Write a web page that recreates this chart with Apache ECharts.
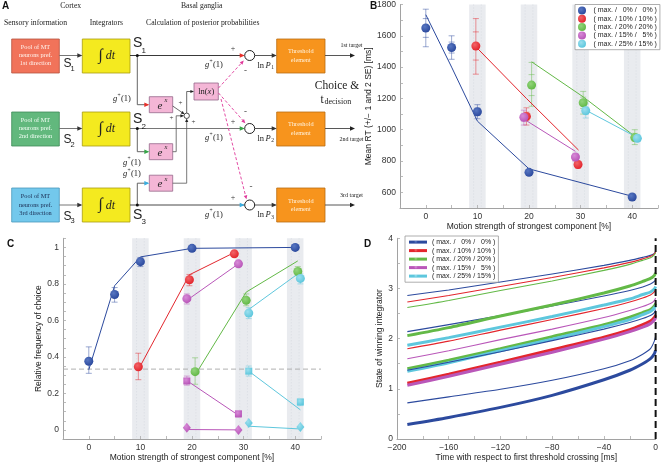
<!DOCTYPE html>
<html><head><meta charset="utf-8">
<script src="https://cdn.jsdelivr.net/npm/echarts@6.0.0/dist/echarts.min.js"></script>
<style>html,body{margin:0;padding:0;background:#fff;overflow:hidden}#chart{width:661px;height:463px}</style>
</head><body><div id="chart"></div>
<script>
// ================= DATA =================
const legendNames = ['( max. /   0% /   0% )','( max. / 10% / 10% )','( max. / 20% / 20% )','( max. / 15% /   5% )','( max. / 25% / 15% )'];
const seriesColors = ['#2c4a9e','#e3262d','#63b947','#b957b9','#5ec7dd'];
const highlightColors = ['#5877c2','#f26468','#92d47b','#d78ad7','#9bdfee'];
const bandCenters = [10,20,30,40];

// Panel B : mean RT [ms]
const bBlueX=[0,5,10,20,40],   bBlueRT=[1650,1525,1115,728,570],  bBlueFit=[1735,1400,1055,750,575];
const bRedX=[9.7,19.5,29.5],   bRedRT=[1535,1085,778];
const bRedFitX=[9.7,19.5,29.6], bRedFit=[1530,1200,870];
const bGreenX=[20.5,30.5,40.5], bGreenRT=[1285,1172,950],       bGreenFit=[1434,1210,958];
const bMagX=[19,29],           bMagRT=[1080,826],                bMagFit=[1068,862];
const bCyanX=[31,41],          bCyanRT=[1122,945],               bCyanFit=[1125,950];
// [x, -2SE, +2SE, -1SE, +1SE]
const bBlueErr=[[0,1530,1770,1590,1710],[5,1450,1600,1490,1560],[10,1070,1160,1092,1138],[20,712,745,720,737],[40,560,582,565,576]];
const bRedErr=[[9.7,1355,1710,1445,1625],[19.5,1030,1140,1058,1112],[29.5,755,800,767,790]];
const bGreenErr=[[20.5,1150,1430,1218,1352],[30.5,1100,1245,1136,1208],[40.5,905,1000,928,977]];
const bMagErr=[[19,1030,1125,1055,1100],[29,800,845,812,834]];
const bCyanErr=[[31,1075,1165,1098,1145],[41,925,968,935,957]];

// Panel C : relative frequency of choice
const cBlueX=[0,5,10,20,40],  cBlue=[0.376,0.742,0.922,0.995,1.0], cBlueFit=[0.33,0.79,0.948,0.995,1.0];
const cRedX=[9.6,19.5,28.2],  cRed=[0.346,0.823,0.965],           cRedFit=[0.33,0.85,0.972];
const cGreenX=[20.6,30.5,40.5], cGreen=[0.319,0.71,0.868],        cGreenFit=[0.30,0.755,0.926];
const cMagX=[19,29],  cMagCirc=[0.719,0.91], cMagCircFit=[0.71,0.91], cMagSq=[0.268,0.088], cMagSqFit=[0.27,0.08], cMagDia=[0.012,0.0], cMagDiaFit=[0.002,0.0];
const cCyanX=[31,41], cCyanCirc=[0.64,0.83], cCyanCircFit=[0.66,0.865], cCyanSq=[0.322,0.153], cCyanSqFit=[0.322,0.11], cCyanDia=[0.038,0.016], cCyanDiaFit=[0.02,0.005];
const chanceLevel = 0.333;
// [x, low, high]
const cBlueErr=[[0,0.31,0.455],[5,0.70,0.78],[10,0.895,0.945]];
const cRedErr=[[9.6,0.275,0.42],[19.5,0.79,0.852],[28.2,0.95,0.98]];
const cGreenErr=[[20.6,0.25,0.395],[30.5,0.68,0.745],[40.5,0.845,0.895]];
const cMagErr=[[19,0.69,0.745],[19,0.245,0.295],[29,0.07,0.1]];
const cCyanErr=[[31,0.61,0.67],[31,0.295,0.35],[41,0.80,0.855],[41,0.133,0.168]];

// Panel D : state of winning integrator vs time [ms]
const dTime=[-192,-160,-120,-80,-40,-20,-10,-4,-1,0];
const dBlueTop =[2.86,2.97,3.13,3.29,3.46,3.56,3.62,3.66,3.70,3.74];
const dRedTop  =[2.73,2.86,3.04,3.22,3.41,3.52,3.59,3.64,3.69,3.73];
const dGreenTop=[2.62,2.76,2.96,3.15,3.36,3.48,3.56,3.61,3.67,3.71];
const dBlue2   =[2.14,2.28,2.46,2.65,2.85,2.96,3.03,3.09,3.14,3.18];
const dGreen2  =[2.06,2.22,2.45,2.67,2.91,3.05,3.14,3.20,3.26,3.31];
const dCyan2   =[1.87,2.02,2.23,2.44,2.67,2.79,2.88,2.93,2.99,3.04];
const dRed2    =[1.80,1.95,2.17,2.38,2.60,2.73,2.81,2.87,2.93,2.98];
const dMag2    =[1.60,1.76,1.98,2.19,2.42,2.56,2.64,2.70,2.76,2.81];
const dGreen3  =[1.40,1.57,1.80,2.04,2.28,2.43,2.52,2.58,2.65,2.70];
const dCyan3   =[1.35,1.52,1.76,1.99,2.24,2.38,2.48,2.54,2.61,2.66];
const dBlue3   =[1.37,1.53,1.74,1.96,2.19,2.32,2.40,2.46,2.52,2.58];
const dRed3    =[1.11,1.29,1.53,1.78,2.03,2.18,2.28,2.35,2.42,2.47];
const dMag3    =[1.07,1.25,1.49,1.73,1.99,2.14,2.23,2.30,2.37,2.42];
const dBlue4   =[0.72,0.84,0.99,1.17,1.40,1.56,1.69,1.80,1.95,2.05];
const dBlue5   =[0.29,0.43,0.63,0.87,1.18,1.37,1.50,1.60,1.70,1.77];

// ================= HELPERS =================
const SANS='"Liberation Sans", Arial, sans-serif';
const SERIF='"Liberation Serif", "Times New Roman", serif';
const pair=(xs,ys)=>xs.map((x,i)=>[x,ys[i]]);
const G=[];
function ln(points,stroke,lw,dash){G.push({type:'polyline',shape:{points},style:{stroke,lineWidth:lw||0.9,fill:null,lineDash:dash||null},z:5,silent:true});}
function ah(x,y,dx,dy,fill,L,W){L=L||5;W=W||2.2;const n=Math.hypot(dx,dy);dx/=n;dy/=n;const bx=x-L*dx,by=y-L*dy;
  G.push({type:'polygon',shape:{points:[[x,y],[bx-W*dy,by+W*dx],[bx+W*dy,by-W*dx]]},style:{fill},z:6,silent:true});}
function tx(x,y,text,font,fill,align,valign,rich){G.push({type:'text',x,y,z:7,silent:true,style:{text,font,fill:fill||'#222',align:align||'center',verticalAlign:valign||'middle',textAlign:align||'center',textVerticalAlign:valign||'middle',rich:rich||undefined}});}
function rc(x,y,w,h,fill,stroke,lw){G.push({type:'rect',shape:{x,y,width:w,height:h},style:{fill,stroke:stroke||null,lineWidth:lw||0.8},z:4,silent:true});}
function ci(cx,cy,r,fill,stroke,lw){G.push({type:'circle',shape:{cx,cy,r},style:{fill,stroke:stroke||null,lineWidth:lw||1},z:6,silent:true});}
function gplus(cx,cy){tx(cx-10,cy,'g','italic 8.5px '+SERIF,'#222','left');tx(cx-5.6,cy-3.4,'+','5.5px '+SERIF,'#222','left');tx(cx-2,cy,'(1)','8.5px '+SERIF,'#222','left');}

// ================= PANEL A (diagram) =================
tx(2,6,'A','bold 10px '+SANS,'#111','left');
const hf='7.7px '+SERIF;
tx(70.7,6,'Cortex',hf); tx(201.7,6,'Basal ganglia',hf);
tx(35.5,23,'Sensory information',hf); tx(106.3,23,'Integrators',hf); tx(202.7,23,'Calculation of posterior probabilities',hf);

const Y=[55.5,128.5,205], boxTop=[39,112,188], BH=34;
const sensFill=['#f1735a','#62b87d','#73c8ec'], sensStroke=['#b5533f','#3f8a58','#4a98bb'];
const sensText=['#fff4ee','#f4fff6','#1b2c52'];
const ord=['1st','2nd','3rd'];
const arrowCol=['#e8302a','#36a548','#3aaee0'];
const mainCol=['#222','#666','#333'];
const sSmallY=[63.8,140,216.3], sBigY=[43,119,214.8];
for(let i=0;i<3;i++){
  const y=Y[i];
  rc(11.7,boxTop[i],47.6,BH,sensFill[i],sensStroke[i]);
  tx(35.5,y-8.3,'Pool of MT','6.3px '+SERIF,sensText[i]);
  tx(35.5,y,'neurons pref.','6.3px '+SERIF,sensText[i]);
  tx(35.5,y+8.3,ord[i]+' direction','6.3px '+SERIF,sensText[i]);
  rc(82.3,boxTop[i],47.7,BH,'#f4ea1f','#a89c12');
  tx(100.5,y,'\u222B','16px '+SERIF,'#222');
  tx(110.5,y+0.5,'dt','italic 12px '+SERIF,'#222');
  rc(276.7,boxTop[i],48.3,BH,'#f7941d','#b96c12');
  tx(300.8,y-4,'Threshold','6.3px '+SERIF,'#fff2de');
  tx(300.8,y+4.5,'element','6.3px '+SERIF,'#fff2de');
  ln([[59.3,y],[81,y]],'#666',0.9); ah(82.3,y,1,0,'#333');
  tx(63.5,sSmallY[i],'S','12px '+SANS,'#222','left');
  tx(70.6,sSmallY[i]+5,String(i+1),'7.5px '+SANS,'#222','left');
  ln([[130,y],[244,y]],mainCol[i],0.9); ah(244.7,y,1,0,arrowCol[i]);
  ci(137.3,y,1.5,'#111');
  tx(133,sBigY[i],'S','14px '+SANS,'#222','left');
  tx(141.5,sBigY[i]+(i===2?6.5:8),String(i+1),'8px '+SANS,'#222','left');
  ci(249.7,y,5,'#fff','#222',1);
  ln([[254.7,y],[275.5,y]],'#444',0.9); ah(276.7,y,1,0,'#333');
  ln([[325,y],[352,y]],'#444',0.9); ah(355,y,1,0,'#222');
  tx(257.5,y+10,'ln','8.5px '+SERIF,'#222','left');
  tx(265.5,y+10,'P','italic 8.5px '+SERIF,'#222','left');
  tx(271.2,y+12.5,String(i+1),'5.5px '+SERIF,'#222','left');
  gplus(215,y+9.3);
  tx(233,y-7,'+','8px '+SERIF,'#333');
}
tx(245.5,71,'-','9px '+SERIF,'#333'); tx(245.5,111.5,'-','9px '+SERIF,'#333'); tx(251,187,'-','9px '+SERIF,'#333');
tx(351.5,45.5,'1st target','6px '+SERIF,'#222'); tx(351.5,139,'2nd target','6px '+SERIF,'#222'); tx(351.5,195.5,'3rd target','6px '+SERIF,'#222');
tx(337,85.5,'Choice &','11.5px '+SERIF,'#222');
tx(320.5,100,'t','11.5px '+SERIF,'#222','left'); tx(324.5,102,'decision','8px '+SERIF,'#222','left');

const exC=[104.7,151.7,183.2];
for(let i=0;i<3;i++){
  ln([[137.3,Y[i]],[137.3,exC[i]],[148,exC[i]]],'#555',0.9); ah(149.3,exC[i],1,0,arrowCol[i]);
  rc(149.3,exC[i]-8,23.4,16,'#f4b6d6','#96688a');
  tx(160,exC[i]+1.2,'e','italic 11px '+SERIF,'#222');
  tx(164.5,exC[i]-4.2,'x','italic 6.5px '+SERIF,'#222','left');
}
gplus(123,99); gplus(133,162.3); gplus(133,174);
const sx=186.7, sy=115.8;
ci(sx,sy,2.7,'#fff','#222',0.8);
ln([[172.7,106],[183.5,113.5]],'#444',0.8); ah(184.6,114.3,1.3,0.95,'#222',3.6,1.6);
ln([[172.7,exC[1]],[176.2,exC[1]],[176.2,sy],[182.5,sy]],'#555',0.8); ah(184,sy,1,0,'#222',3.6,1.6);
ln([[172.7,exC[2]],[sx,exC[2]],[sx,120]],'#555',0.8); ah(sx,118.5,0,-1,'#222',3.6,1.6);
ln([[sx,113.1],[sx,91.5],[192.5,91.5]],'#444',0.8); ah(194,91.5,1,0,'#222',3.6,1.6);
tx(180.5,103.5,'+','7px '+SERIF,'#333'); tx(171.5,118,'+','7px '+SERIF,'#333'); tx(193.5,122.5,'+','7px '+SERIF,'#333');
rc(194,83,24.3,17,'#f4b6d6','#96688a');
tx(206.2,91.8,'{a|ln(}{b|x}{a|)}','8.5px '+SERIF,'#222','center','middle',{a:{font:'8.5px '+SERIF,fill:'#222'},b:{font:'italic 8.5px '+SERIF,fill:'#222'}});
const mag='#e0389a';
ln([[218.5,88],[241.5,63]],mag,0.9,[3,2]); ah(243.8,60.5,1,-1.1,mag,4,1.8);
ln([[218.5,93],[243,120.5]],mag,0.9,[3,2]); ah(245.3,123.3,1,1.15,mag,4,1.8);
ln([[221,99],[245.5,195.5]],mag,0.9,[3,2]); ah(246.5,199.3,0.26,1,mag,4,1.8);

tx(370,6,'B','bold 10px '+SANS,'#111','left');
tx(7,244,'C','bold 10px '+SANS,'#111','left');
tx(364,244,'D','bold 10px '+SANS,'#111','left');

// ================= CHART OPTION =================
const axCol='#8a8a8a';
function xAx(grid,min,max,interval,labelStep,name){
  return {type:'value',gridIndex:grid,min,max,interval,name,nameLocation:'middle',nameGap:14,
    nameTextStyle:{fontSize:8.5,fontFamily:SANS,color:'#222'},
    axisLine:{show:true,onZero:false,lineStyle:{color:axCol,width:0.8}},
    axisTick:{show:true,inside:true,length:3,lineStyle:{color:'#aaa',width:0.8}},
    axisLabel:{fontSize:8.5,fontFamily:SANS,color:'#333',margin:4,
      formatter:v=>{const r=Math.round(v*1000)/1000;return (Math.abs(r%labelStep)<1e-6)?String(r).replace('-','\u2212'):'';}},
    splitLine:{show:false}};
}
function yAx(grid,min,max,interval,labelFn,name,nameGap){
  return {type:'value',gridIndex:grid,min,max,interval,name,nameLocation:'middle',nameGap,nameRotate:90,
    nameTextStyle:{fontSize:8.5,fontFamily:SANS,color:'#222'},
    axisLine:{show:true,onZero:false,lineStyle:{color:axCol,width:0.8}},
    axisTick:{show:true,inside:true,length:3,lineStyle:{color:'#aaa',width:0.8}},
    axisLabel:{fontSize:8.5,fontFamily:SANS,color:'#333',margin:4,formatter:labelFn},
    splitLine:{show:false}};
}
function bandSeries(xi,yi,ymin,ymax){
  return {type:'custom',xAxisIndex:xi,yAxisIndex:yi,silent:true,z:0,
    data:bandCenters.map(c=>[c,ymin,ymax]),
    renderItem:(p,api)=>{const c=api.value(0),lo=api.value(1),hi=api.value(2);
      const a=api.coord([c-1.6,hi]), b=api.coord([c+1.6,lo]);
      const d1a=api.coord([c-0.75,hi]),d1b=api.coord([c-0.75,lo]),d2a=api.coord([c+0.75,hi]),d2b=api.coord([c+0.75,lo]);
      return {type:'group',children:[
        {type:'rect',shape:{x:a[0],y:a[1],width:b[0]-a[0],height:b[1]-a[1]},style:{fill:'#e9ebef'}},
        {type:'line',shape:{x1:d1a[0],y1:d1a[1],x2:d1b[0],y2:d1b[1]},style:{stroke:'#d3d7de',lineWidth:0.7,lineDash:[1,2]}},
        {type:'line',shape:{x1:d2a[0],y1:d2a[1],x2:d2b[0],y2:d2b[1]},style:{stroke:'#d3d7de',lineWidth:0.7,lineDash:[1,2]}}]};}};
}
function errSeries(xi,yi,data,color){
  return {type:'custom',xAxisIndex:xi,yAxisIndex:yi,silent:true,z:2,data,
    itemStyle:{color},
    renderItem:(p,api)=>{const x=api.value(0);const n=data[p.dataIndex].length-1;const pts=[];
      for(let k=1;k<=n;k++)pts.push(api.coord([x,api.value(k)]));
      const ch=[{type:'line',shape:{x1:pts[0][0],y1:pts[0][1],x2:pts[1][0],y2:pts[1][1]},style:{stroke:color,lineWidth:0.8}}];
      pts.forEach(q=>ch.push({type:'line',shape:{x1:q[0]-3,y1:q[1],x2:q[0]+3,y2:q[1]},style:{stroke:color,lineWidth:0.8}}));
      return {type:'group',children:ch};}};
}
function fitLine(xi,yi,data,color,w){return {type:'line',xAxisIndex:xi,yAxisIndex:yi,data,showSymbol:false,silent:true,z:3,lineStyle:{color,width:w||1},animation:false};}
function ball(i){return {type:'radial',x:0.38,y:0.35,r:0.65,colorStops:[{offset:0,color:highlightColors[i]},{offset:1,color:seriesColors[i]}]};}
function scat(xi,yi,data,ci_,name,symbol,size){return {type:'scatter',name,xAxisIndex:xi,yAxisIndex:yi,data,symbol:symbol||'circle',symbolSize:size||9,silent:true,z:4,itemStyle:{color:ball(ci_),opacity:1}};}
const fade=c=>c+'99';
const [cb,cr,cg,cm,cc]=seriesColors;

const series=[
  bandSeries(0,0,500,1800), bandSeries(1,1,-0.05,1.05),
  fitLine(0,0,pair(bBlueX,bBlueFit),cb), fitLine(0,0,pair(bRedFitX,bRedFit),cr), fitLine(0,0,pair(bGreenX,bGreenFit),cg),
  fitLine(0,0,pair(bMagX,bMagFit),cm), fitLine(0,0,pair(bCyanX,bCyanFit),cc),
  errSeries(0,0,bBlueErr,fade(cb)), errSeries(0,0,bRedErr,fade(cr)), errSeries(0,0,bGreenErr,fade(cg)), errSeries(0,0,bMagErr,fade(cm)), errSeries(0,0,bCyanErr,fade(cc)),
  scat(0,0,pair(bBlueX,bBlueRT),0,legendNames[0]), scat(0,0,pair(bRedX,bRedRT),1,legendNames[1]), scat(0,0,pair(bGreenX,bGreenRT),2,legendNames[2]),
  scat(0,0,pair(bMagX,bMagRT),3,legendNames[3]), scat(0,0,pair(bCyanX,bCyanRT),4,legendNames[4]),
  {type:'line',xAxisIndex:1,yAxisIndex:1,data:[[-5,chanceLevel],[45,chanceLevel]],showSymbol:false,silent:true,z:1,lineStyle:{color:'#a8a8a8',width:0.9,type:[5,3]}},
  fitLine(1,1,pair(cBlueX,cBlueFit),cb), fitLine(1,1,pair(cRedX,cRedFit),cr), fitLine(1,1,pair(cGreenX,cGreenFit),cg),
  fitLine(1,1,pair(cMagX,cMagCircFit),cm), fitLine(1,1,pair(cMagX,cMagSqFit),cm), fitLine(1,1,pair(cMagX,cMagDiaFit),cm),
  fitLine(1,1,pair(cCyanX,cCyanCircFit),cc), fitLine(1,1,pair(cCyanX,cCyanSqFit),cc), fitLine(1,1,pair(cCyanX,cCyanDiaFit),cc),
  errSeries(1,1,cBlueErr,fade(cb)), errSeries(1,1,cRedErr,fade(cr)), errSeries(1,1,cGreenErr,fade(cg)), errSeries(1,1,cMagErr,fade(cm)), errSeries(1,1,cCyanErr,fade(cc)),
  scat(1,1,pair(cBlueX,cBlue),0), scat(1,1,pair(cRedX,cRed),1), scat(1,1,pair(cGreenX,cGreen),2),
  scat(1,1,pair(cMagX,cMagCirc),3), scat(1,1,pair(cMagX,cMagSq),3,undefined,'rect',7), scat(1,1,pair(cMagX,cMagDia),3,undefined,'diamond',[8,10]),
  scat(1,1,pair(cCyanX,cCyanCirc),4), scat(1,1,pair(cCyanX,cCyanSq),4,undefined,'rect',7), scat(1,1,pair(cCyanX,cCyanDia),4,undefined,'diamond',[8,10]),
];
const dCurves=[
  [dBlueTop,cb,1.1],[dRedTop,cr,1.1],[dGreenTop,cg,1.1],
  [dBlue2,cb,1.1],[dGreen2,cg,3,legendNames[2]],[dCyan2,cc,3,legendNames[4]],[dRed2,cr,1.1],[dMag2,cm,1.1],
  [dGreen3,cg,3],[dCyan3,cc,3],[dBlue3,cb,1.1],[dRed3,cr,3,legendNames[1]],[dMag3,cm,3,legendNames[3]],
  [dBlue4,cb,1.1],[dBlue5,cb,3,legendNames[0]]
];
dCurves.forEach(([vals,col,w,name])=>{
  series.push({type:'line',name,xAxisIndex:2,yAxisIndex:2,data:pair(dTime,vals),showSymbol:false,smooth:0.25,silent:true,z:3,lineStyle:{color:col,width:w},itemStyle:{color:col}});
});
series.push({type:'line',xAxisIndex:2,yAxisIndex:2,data:[[0,0],[0,4]],showSymbol:false,silent:true,z:5,lineStyle:{color:'#111',width:2,type:[7,4]}});

const option={
  animation:false,
  backgroundColor:'#fff',
  textStyle:{fontFamily:SANS},
  grid:[
    {left:400,top:4,width:260,height:204},
    {left:63,top:238.3,width:258,height:202.4},
    {left:397,top:238.3,width:261,height:202.4}
  ],
  xAxis:[
    xAx(0,-5,45,5,10,'Motion strength of strongest component [%]'),
    xAx(1,-5,45,5,10,'Motion strength of strongest component [%]'),
    xAx(2,-200,0,20,40,'Time with respect to first threshold crossing [ms]')
  ],
  yAxis:[
    yAx(0,500,1800,100,v=>(v%200===0&&v>=600)?String(v):'','Mean RT (+/\u2212 1 and 2 SE) [ms]',22),
    yAx(1,-0.05,1.05,0.05,v=>{const r=Math.round(v*100);return (r>=0&&r%20===0)?String(r/100):'';},'Relative frequency of choice',17),
    yAx(2,0,4,0.5,v=>(Math.abs(v-Math.round(v))<1e-6)?String(Math.round(v)):'','State of winning integrator',10)
  ],
  legend:[
    {data:legendNames.map(n=>({name:n,icon:'circle'})),left:575,top:4.5,orient:'vertical',itemWidth:13,itemHeight:8,itemGap:0.3,selectedMode:false,
      textStyle:{fontSize:7,fontFamily:SANS,color:'#222',lineHeight:8},borderColor:'#999',borderWidth:0.8,padding:[2,3,2,3],backgroundColor:'#fff'},
    {data:legendNames.map(n=>({name:n,icon:'rect'})),left:405,top:236,orient:'vertical',itemWidth:18,itemHeight:3,itemGap:0.3,selectedMode:false,
      textStyle:{fontSize:7,fontFamily:SANS,color:'#222',lineHeight:8.2},borderColor:'#999',borderWidth:0.8,padding:[2,3,2,4],backgroundColor:'#fff'}
  ],
  series,
  graphic:{elements:G}
};
const chart=echarts.init(document.getElementById('chart'),null,{renderer:'canvas'});
chart.setOption(option);
</script></body></html>
